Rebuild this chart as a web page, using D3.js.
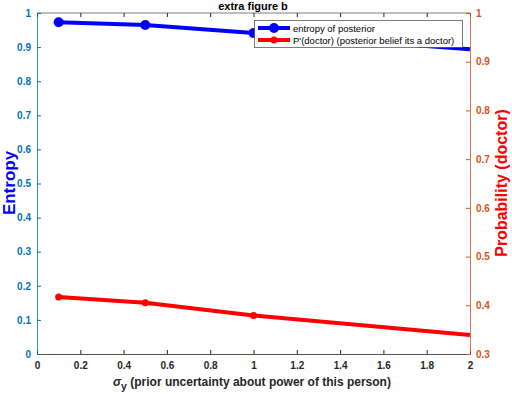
<!DOCTYPE html>
<html><head><meta charset="utf-8">
<script src="https://cdn.jsdelivr.net/npm/d3@7"></script>
<style>body{margin:0;background:#fff}svg{display:block}text{font-family:"Liberation Sans",Arial,sans-serif;font-weight:bold}</style>
</head><body><svg id="c" width="512" height="394"></svg>
<script>
const xValues = [0.1, 0.5, 1, 2];
const entropy = [0.973, 0.965, 0.941, 0.894];
const pDoctor = [0.417, 0.405, 0.379, 0.339];
const xTicks = [0,0.2,0.4,0.6,0.8,1,1.2,1.4,1.6,1.8,2];
const leftTicks = [0,0.1,0.2,0.3,0.4,0.5,0.6,0.7,0.8,0.9,1];
const rightTicks = [0.3,0.4,0.5,0.6,0.7,0.8,0.9,1];
const seriesNames = ["entropy of posterior", "P'(doctor) (posterior belief its a doctor)"];

const L=37,R=470,T=13,B=354;
const svg=d3.select("#c");
const x=d3.scaleLinear().domain([0,2]).range([L,R]);
const yL=d3.scaleLinear().domain([0,1]).range([B,T]);
const yR=d3.scaleLinear().domain([0.3,1]).range([B,T]);
const leftCol="#0072BD", rightCol="#D95319", axGray="#262626";

svg.append("line").attr("x1",L).attr("x2",R).attr("y1",T).attr("y2",T).attr("stroke",axGray).attr("stroke-width",0.6);

const fmt=d=>String(d);
const xb=svg.append("g").attr("transform",`translate(0,${B})`).call(d3.axisBottom(x).tickValues(xTicks).tickSize(-4).tickPadding(8).tickFormat(fmt));
xb.select(".domain").attr("stroke",axGray).attr("stroke-width",0.8);
xb.selectAll(".tick line").attr("stroke",axGray);
xb.selectAll("text").attr("fill",axGray).style("font-size","10px");
const xt=svg.append("g").attr("transform",`translate(0,${T})`).call(d3.axisTop(x).tickValues(xTicks).tickSize(-4).tickFormat(""));
xt.select(".domain").remove();
xt.selectAll(".tick line").attr("stroke",axGray);

const yl=svg.append("g").attr("transform",`translate(${L},0)`).call(d3.axisLeft(yL).tickValues(leftTicks).tickSize(-4).tickPadding(6).tickFormat(fmt));
yl.select(".domain").attr("stroke",leftCol).attr("stroke-width",0.8);
yl.selectAll(".tick line").attr("stroke",leftCol);
yl.selectAll("text").attr("fill",leftCol).style("font-size","10px");
const yr=svg.append("g").attr("transform",`translate(${R},0)`).call(d3.axisRight(yR).tickValues(rightTicks).tickSize(-4).tickPadding(6).tickFormat(fmt));
yr.select(".domain").attr("stroke",rightCol).attr("stroke-width",0.8);
yr.selectAll(".tick line").attr("stroke",rightCol);
yr.selectAll("text").attr("fill",rightCol).style("font-size","10px");

const dataB=xValues.map((v,i)=>({x:v,y:entropy[i]}));
const dataR=xValues.map((v,i)=>({x:v,y:pDoctor[i]}));
svg.append("path").datum(dataB).attr("fill","none").attr("stroke","#0000FF").attr("stroke-width",4)
  .attr("d",d3.line().x(d=>x(d.x)).y(d=>yL(d.y)));
svg.selectAll(".mb").data(dataB.filter(d=>d.x<2)).join("circle").attr("cx",d=>x(d.x)).attr("cy",d=>yL(d.y)).attr("r",5).attr("fill","#0000FF");
svg.append("path").datum(dataR).attr("fill","none").attr("stroke","#FF0000").attr("stroke-width",4)
  .attr("d",d3.line().x(d=>x(d.x)).y(d=>yR(d.y)));
svg.selectAll(".mr").data(dataR.filter(d=>d.x<2)).join("circle").attr("cx",d=>x(d.x)).attr("cy",d=>yR(d.y)).attr("r",3.5).attr("fill","#FF0000");

const lg=svg.append("g");
lg.append("rect").attr("x",254.5).attr("y",20.5).attr("width",208).attr("height",27).attr("fill","#fff").attr("stroke","#262626").attr("stroke-width",0.6);
const cols=["#0000FF","#FF0000"], rs=[5,3.5];
seriesNames.forEach((n,i)=>{
  const yy=28+i*12;
  lg.append("line").attr("x1",258).attr("x2",290).attr("y1",yy).attr("y2",yy).attr("stroke",cols[i]).attr("stroke-width",4);
  lg.append("circle").attr("cx",274).attr("cy",yy).attr("r",rs[i]).attr("fill",cols[i]);
  lg.append("text").attr("x",293).attr("y",yy+3.5).attr("fill","#000").style("font-size","9.5px").style("font-weight","normal").text(n);
});

svg.append("text").attr("x",253).attr("y",10).attr("text-anchor","middle").attr("fill","#000").style("font-size","11px").text("extra figure b");
const xl=svg.append("text").attr("x",252).attr("y",386).attr("text-anchor","middle").attr("fill","#262626").style("font-size","12px");
xl.append("tspan").style("font-style","italic").text("σ");
xl.append("tspan").attr("dy",4).style("font-size","10.5px").text("y");
xl.append("tspan").attr("dy",-4).text(" (prior uncertainty about power of this person)");
svg.append("text").attr("transform","translate(15,183) rotate(-90)").attr("text-anchor","middle").attr("fill","#0000FF").style("font-size","17px").text("Entropy");
svg.append("text").attr("transform","translate(507,183) rotate(-90)").attr("text-anchor","middle").attr("fill","#FF0000").style("font-size","16px").text("Probability (doctor)");
</script></body></html>
